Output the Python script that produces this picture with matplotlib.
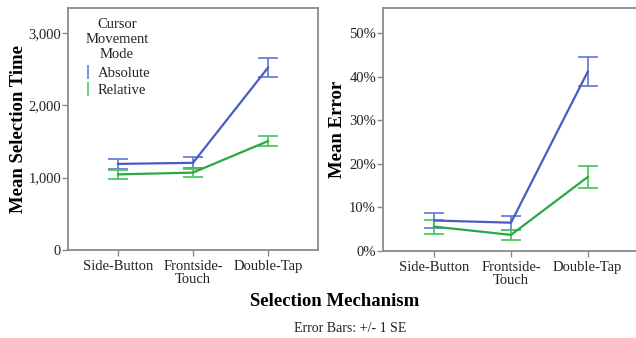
import numpy as np
import matplotlib
matplotlib.use("Agg")
import matplotlib.pyplot as plt
from matplotlib.ticker import FuncFormatter

# data
mechanisms = ["Side-Button", "Frontside-\nTouch", "Double-Tap"]
modes = ["Absolute", "Relative"]

time_abs = [1190, 1205, 2520]
time_abs_se = [70, 75, 130]
time_rel = [1045, 1070, 1505]
time_rel_se = [60, 55, 65]

err_abs = [7.0, 6.5, 41.2]
err_abs_se = [1.7, 1.6, 3.4]
err_rel = [5.6, 3.7, 17.0]
err_rel_se = [1.6, 1.2, 2.5]

plt.rcParams['font.family'] = ['Liberation Serif', 'DejaVu Serif']

line_col = {"Absolute": "#4a5cc0", "Relative": "#2aa845"}
bar_col = {"Absolute": "#6a7ed4", "Relative": "#4ec862"}

fig = plt.figure(figsize=(6.36, 3.38), dpi=100)
W, H = 636.0, 338.0
ax1 = fig.add_axes([68 / W, 1 - 250 / H, 250 / W, 242 / H])
ax2 = fig.add_axes([383 / W, 1 - 251 / H, 256 / W, 243 / H])

x = np.arange(len(mechanisms))


def draw(ax, series):
    handles = []
    for name, vals, se in series:
        ax.plot(x, vals, color=line_col[name], lw=1.6, zorder=3)
        ax.errorbar(x, vals, yerr=se, fmt='none', ecolor=bar_col[name],
                    elinewidth=1.3, capsize=7, capthick=1.3, zorder=2)
        h = ax.errorbar([], [], yerr=[], fmt='none', ecolor=bar_col[name],
                        elinewidth=1.2, capsize=4, capthick=1.2)
        handles.append(h)
    ax.set_xlim(-0.667, 2.667)
    ax.set_xticks(x)
    ax.set_xticklabels(mechanisms, fontsize=10.5, color='#222222',
                       linespacing=1.0)
    for s in ax.spines.values():
        s.set_color('#8a8a8a')
        s.set_linewidth(1.3)
    ax.tick_params(axis='both', colors='#8a8a8a', labelcolor='#222222',
                   labelsize=10.5, length=4, width=1.0, direction='out')
    ax.tick_params(axis='y', pad=1)
    ax.tick_params(axis='x', pad=3)
    return handles


hs = draw(ax1, [("Absolute", time_abs, time_abs_se),
                ("Relative", time_rel, time_rel_se)])
ax1.set_ylim(0, 3345)
ax1.set_yticks([0, 1000, 2000, 3000])
ax1.yaxis.set_major_formatter(FuncFormatter(lambda v, p: f"{int(v):,}"))
ax1.set_ylabel("Mean Selection Time", fontsize=13.5, fontweight='bold')
ax1.yaxis.set_label_coords(-0.162, 0.5)
leg = ax1.legend(hs, modes, title="Cursor\nMovement\nMode", loc='upper left',
                 bbox_to_anchor=(0.02, 1.0), frameon=False, fontsize=10.5,
                 title_fontsize=10.5, handlelength=0.6, handletextpad=0.4,
                 labelspacing=0.27, borderaxespad=0.3)
leg.get_title().set_multialignment('center')
leg.get_title().set_color('#222222')
leg._legend_box.sep = 4
for t in leg.get_texts():
    t.set_color('#222222')

draw(ax2, [("Absolute", err_abs, err_abs_se),
           ("Relative", err_rel, err_rel_se)])
ax2.set_ylim(0, 55.8)
ax2.set_yticks([0, 10, 20, 30, 40, 50])
ax2.yaxis.set_major_formatter(FuncFormatter(lambda v, p: f"{int(v)}%"))
ax2.set_ylabel("Mean Error", fontsize=13.5, fontweight='bold')
ax2.yaxis.set_label_coords(-0.145, 0.5)

fig.text(335 / W, 1 - 301 / H, "Selection Mechanism", ha='center',
         va='center', fontsize=13.5, fontweight='bold')
fig.text(350 / W, 1 - 329 / H, "Error Bars: +/- 1 SE", ha='center',
         va='center', fontsize=10, color='#222222')

fig.savefig("out.png", dpi=100)
